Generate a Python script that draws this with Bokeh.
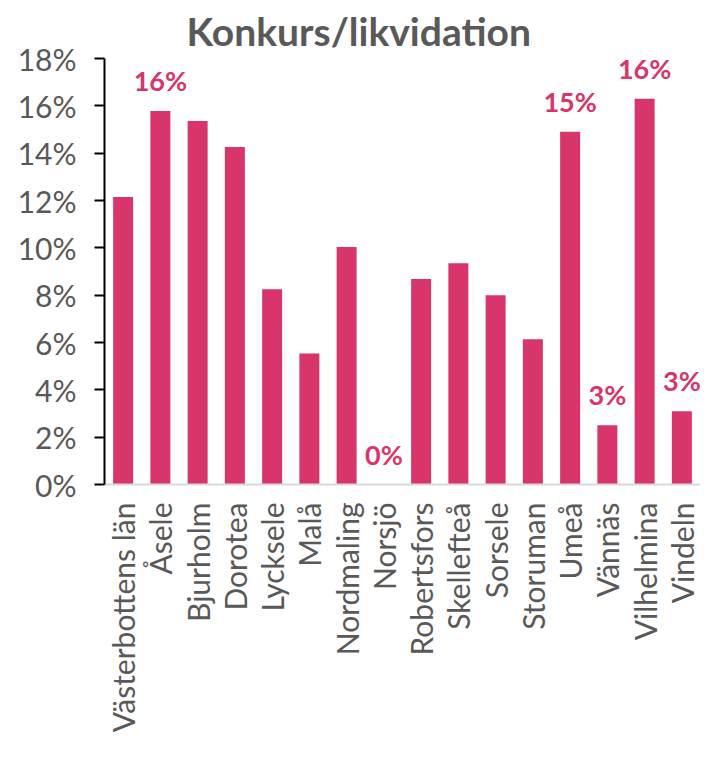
from bokeh.plotting import figure
from bokeh.models import Range1d, FixedTicker, ColumnDataSource, LabelSet, NumeralTickFormatter
from bokeh.core.properties import value
from bokeh.embed import file_html
from bokeh.resources import INLINE
import math

categories = ["Västerbottens län", "Åsele", "Bjurholm", "Dorotea", "Lycksele", "Malå",
              "Nordmaling", "Norsjö", "Robertsfors", "Skellefteå", "Sorsele", "Storuman",
              "Umeå", "Vännäs", "Vilhelmina", "Vindeln"]
values = [0.1215, 0.1578, 0.1536, 0.1426, 0.0825, 0.0554,
          0.1003, 0.0, 0.0868, 0.0935, 0.0800, 0.0614,
          0.1490, 0.0250, 0.1630, 0.0309]
label_categories = ["Åsele", "Norsjö", "Umeå", "Vännäs", "Vilhelmina", "Vindeln"]
label_texts = ["16%", "0%", "15%", "3%", "16%", "3%"]
y_ticks = [0.0, 0.02, 0.04, 0.06, 0.08, 0.10, 0.12, 0.14, 0.16, 0.18]

BAR = "#D8366A"
GRAY = "#595959"

xs = list(range(len(categories)))
src = ColumnDataSource(dict(x=xs, top=values))

lx = [categories.index(c) for c in label_categories]
ly = [values[i] for i in lx]
lsrc = ColumnDataSource(dict(x=lx, y=ly, t=label_texts))

p = figure(width=700, height=745, output_backend="svg", toolbar_location=None,
           x_range=Range1d(-0.5, len(categories) - 0.5), y_range=Range1d(0, 0.18),
           min_border_left=104, min_border_right=0, min_border_top=55, min_border_bottom=261,
           title="Konkurs/likvidation")

p.vbar(x="x", top="top", width=20 / 37.25, source=src, color=BAR, line_color=None)

p.add_layout(LabelSet(x="x", y="y", text="t", source=lsrc, text_align="center",
                      text_baseline="alphabetic", y_offset=20, text_color=BAR,
                      text_font=value("Lato"), text_font_style="bold",
                      text_font_size="27px"))

p.title.align = "left"
p.title.offset = 82
p.title.text_font = "Lato"
p.title.text_font_style = "bold"
p.title.text_font_size = "39px"
p.title.text_color = GRAY

p.xgrid.visible = False
p.ygrid.visible = False
p.outline_line_color = None

p.xaxis.ticker = FixedTicker(ticks=xs)
p.xaxis.major_label_overrides = {i: c for i, c in enumerate(categories)}
p.xaxis.major_label_orientation = math.pi / 2
p.xaxis.major_tick_line_color = None
p.xaxis.minor_tick_line_color = None
p.xaxis.axis_line_color = "#D9D9D9"
p.xaxis.axis_line_width = 2
p.xaxis.major_label_text_font = "Lato"
p.xaxis.major_label_text_font_size = "30px"
p.xaxis.major_label_text_color = GRAY
p.xaxis.major_label_standoff = 12

p.yaxis.ticker = FixedTicker(ticks=y_ticks)
p.yaxis.formatter = NumeralTickFormatter(format="0%")
p.yaxis.minor_tick_line_color = None
p.yaxis.major_tick_in = 0
p.yaxis.major_tick_out = 10
p.yaxis.major_tick_line_width = 2
p.yaxis.axis_line_width = 2
p.yaxis.axis_line_color = "black"
p.yaxis.major_tick_line_color = "black"
p.yaxis.major_label_text_font = "Lato"
p.yaxis.major_label_text_font_size = "30px"
p.yaxis.major_label_text_color = GRAY
p.yaxis.major_label_standoff = 18

open("out.html", "w").write(file_html(p, INLINE))
